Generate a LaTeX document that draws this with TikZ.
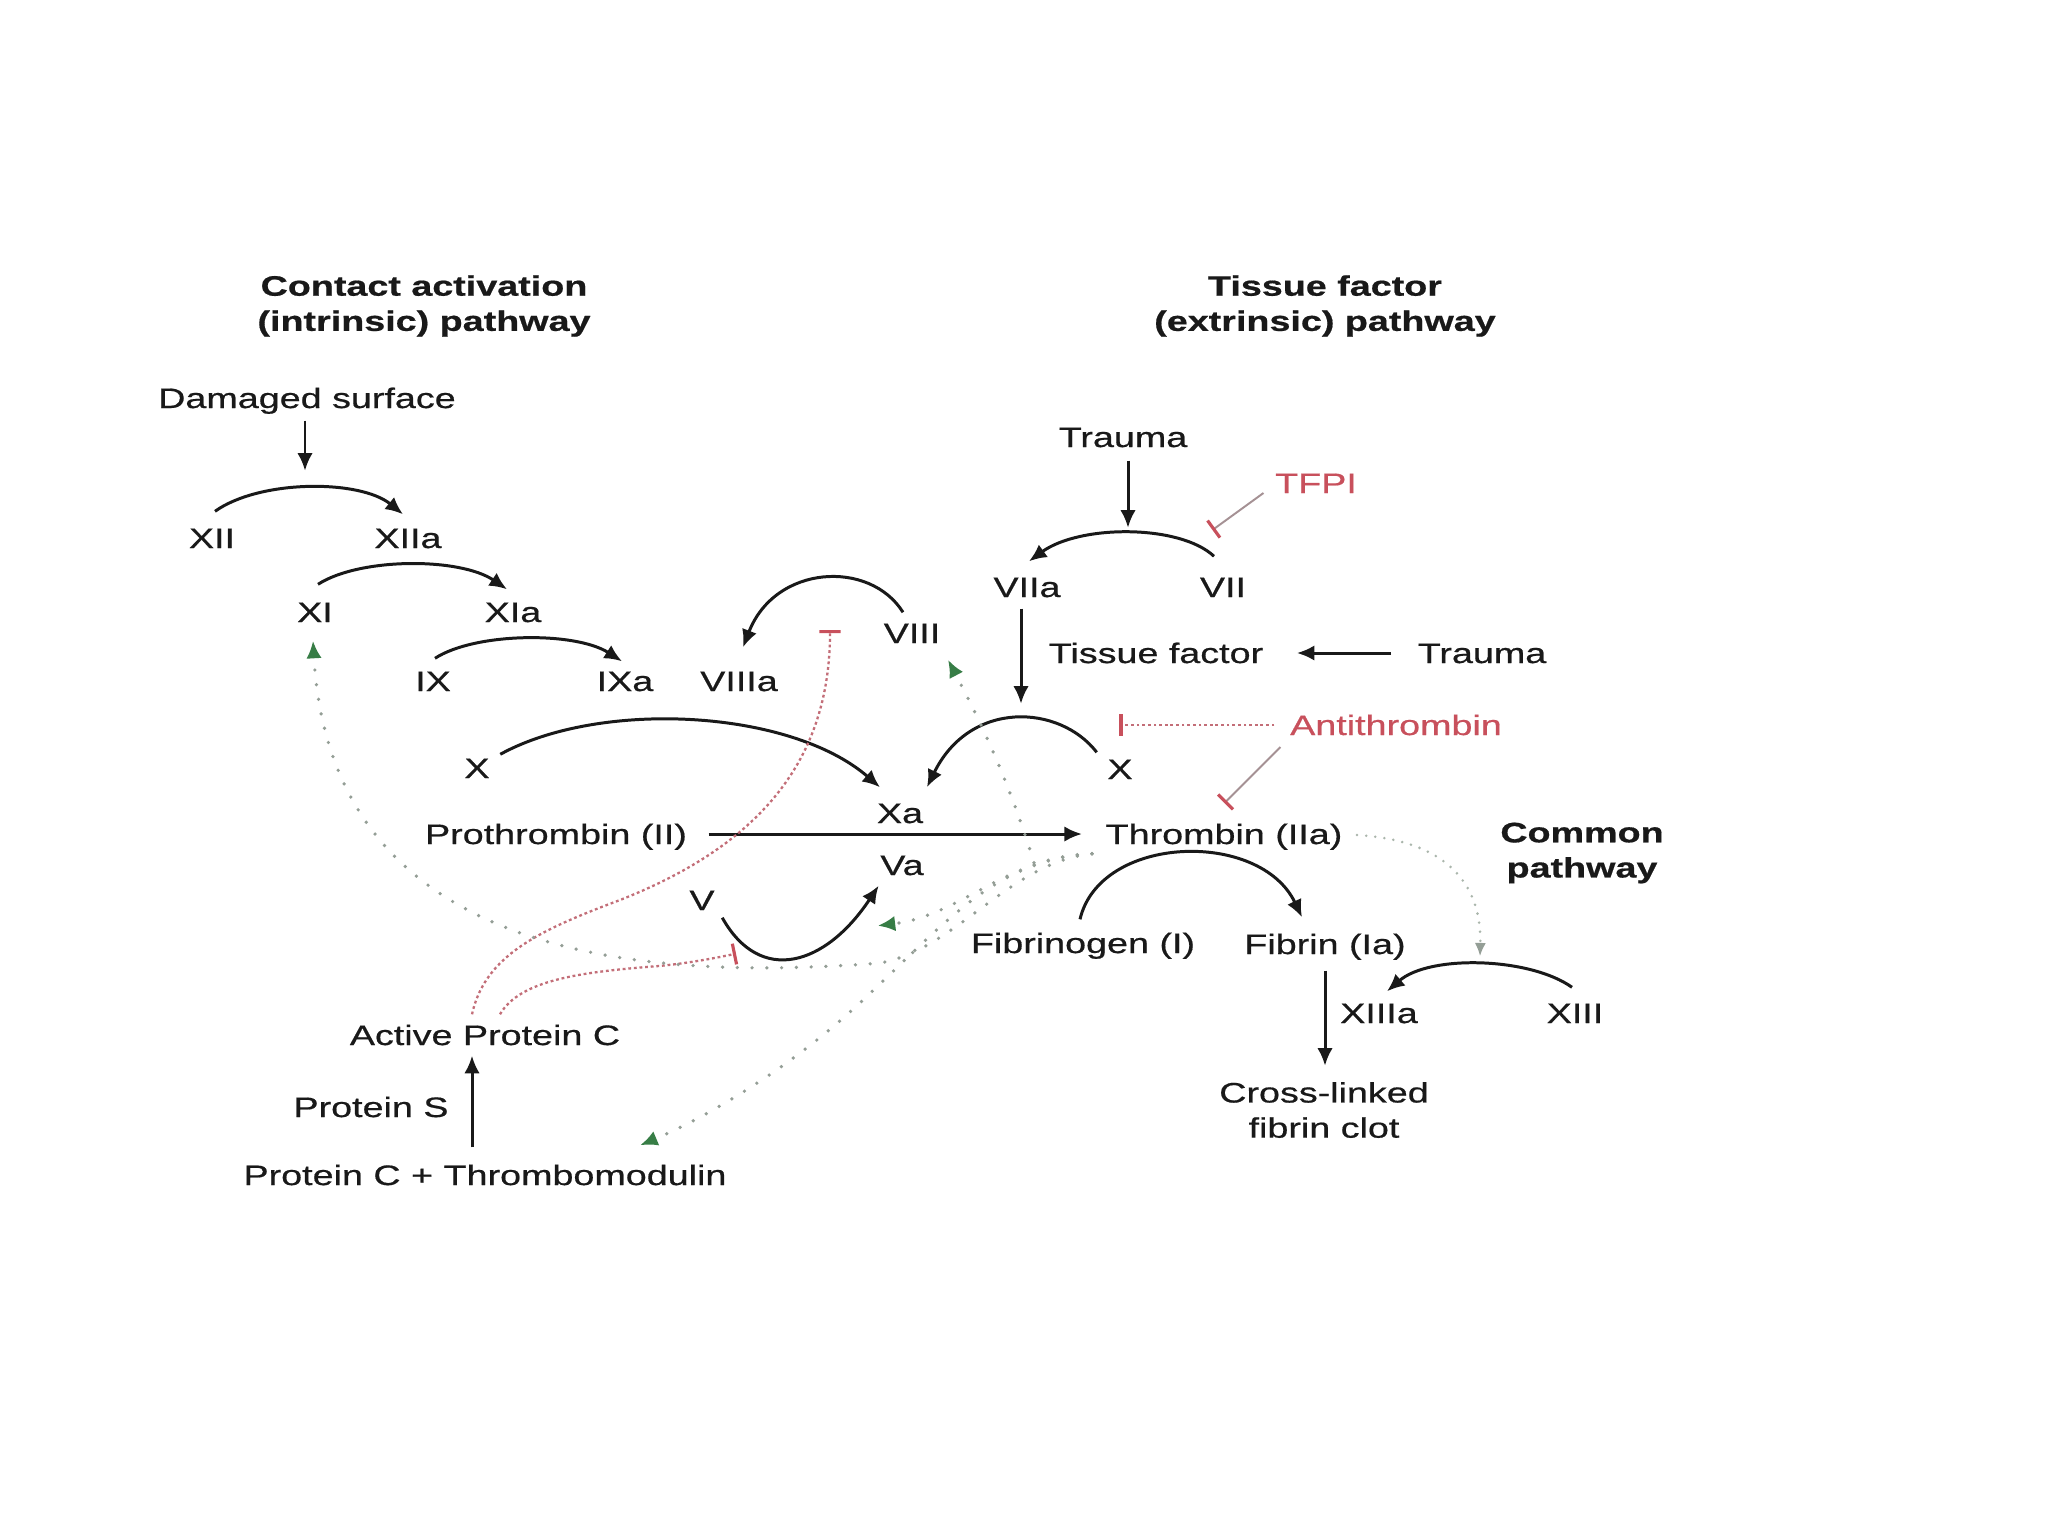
\documentclass[tikz,border=0pt]{standalone}
\usepackage{fontspec}
\setmainfont{Liberation Sans}[FakeStretch=1.34,FakeBold=0.6]
\usetikzlibrary{arrows.meta,calc}
\definecolor{inhred}{RGB}{200,80,92}
\definecolor{inhline}{RGB}{195,110,120}
\definecolor{inhgrey}{RGB}{165,145,148}
\definecolor{dotgrey}{RGB}{148,158,150}
\definecolor{dotlight}{RGB}{170,182,172}
\definecolor{tipgreen}{RGB}{55,125,70}
\definecolor{ink}{RGB}{25,25,25}
\begin{document}
\begin{tikzpicture}[x=0.01cm,y=-0.01cm,
  lbl/.style={inner sep=0pt, text height=0.2cm, text depth=0pt, font=\fontsize{8}{10}\selectfont, text=ink},
  ttl/.style={inner sep=0pt, align=center, font=\fontsize{8}{10}\selectfont\bfseries, text=ink},
  two/.style={inner sep=0pt, align=center, font=\fontsize{8}{10}\selectfont, text=ink},
  redlbl/.style={lbl, text=inhred},
  arr/.style={draw=ink, line width=0.85pt, -{Latex[length=5pt,width=4.4pt]}},
  fb/.style={draw=dotgrey, line width=1.05pt, line cap=round, dash pattern=on 0pt off 4.2pt, -{Latex[length=5pt,width=4.4pt,color=tipgreen]}},
  fbl/.style={draw=dotlight, line width=0.8pt, line cap=round, dash pattern=on 0pt off 2.6pt, -{Latex[length=3.8pt,width=3.2pt,color=dotgrey]}},
  inh/.style={draw=inhgrey, line width=0.55pt, -{Bar[width=6pt,line width=0.9pt,color=inhred]}},
  inhd/.style={draw=inhline, line width=0.65pt, dash pattern=on 0.8pt off 0.8pt, -{Bar[width=6pt,line width=0.9pt,color=inhred]}}
]
\useasboundingbox (0,0) rectangle (2048,1536);
\fill[white] (0,0) rectangle (2048,1536);

% titles
\node[ttl] (tcont) at (424,306) {Contact activation\\(intrinsic) pathway};
\node[ttl] (ttis) at (1325,306) {Tissue factor\\(extrinsic) pathway};
\node[ttl] (tcom) at (1582,853) {Common\\pathway};

% labels
\node[lbl] (dmg) at (307,398) {Damaged surface};
\node[lbl] (xii) at (212,538) {XII};
\node[lbl] (xiia) at (408,538) {XIIa};
\node[lbl] (xi) at (315,612) {XI};
\node[lbl] (xia) at (513,612) {XIa};
\node[lbl] (ix) at (433,681) {IX};
\node[lbl] (ixa) at (625,681) {IXa};
\node[lbl] (viiia) at (739,681) {VIIIa};
\node[lbl] (viii) at (912,633) {VIII};
\node[lbl] (xl) at (477,768) {X};
\node[lbl] (xa) at (900,813) {Xa};
\node[lbl] (proth) at (556,834) {Prothrombin (II)};
\node[lbl] (va) at (902,865) {Va};
\node[lbl] (v) at (702,900) {V};
\node[lbl] (thr) at (1224,834) {Thrombin (IIa)};
\node[lbl] (xr) at (1120,769) {X};
\node[lbl] (viia) at (1027,587) {VIIa};
\node[lbl] (vii) at (1223,587) {VII};
\node[lbl] (tr1) at (1123,437) {Trauma};
\node[redlbl] (tfpi) at (1316,483) {TFPI};
\node[lbl] (tf) at (1156,653) {Tissue factor};
\node[lbl] (tr2) at (1482,653) {Trauma};
\node[redlbl] (at) at (1396,725) {Antithrombin};
\node[lbl] (fbg) at (1083,943) {Fibrinogen (I)};
\node[lbl] (fbn) at (1325,944) {Fibrin (Ia)};
\node[lbl] (xiiia) at (1379,1013) {XIIIa};
\node[lbl] (xiii) at (1575,1013) {XIII};
\node[two] (clot) at (1324,1110) {Cross-linked\\fibrin clot};
\node[lbl] (apc) at (485,1035) {Active Protein C};
\node[lbl] (ps) at (371,1107) {Protein S};
\node[lbl] (pctm) at (485,1175) {Protein C + Thrombomodulin};

% black conversions
\draw[arr] ($(dmg.south)+(-2,12)$) -- ++(0,50);
\draw[arr] ($(xii.north)+(3,-16)$) .. controls +(45,-32) and +(-43,-35) .. ($(xiia.north)+(-5,-13)$);
\draw[arr] ($(xi.north)+(3,-17)$) .. controls +(42,-27) and +(-47,-32) .. ($(xia.north)+(-6,-12)$);
\draw[arr] ($(ix.north)+(2,-12)$) .. controls +(40,-26) and +(-47,-30) .. ($(ixa.north)+(-3,-9)$);
\draw[arr] ($(viii.north)+(-9,-10)$) .. controls +(-33,-53) and +(32,-83) .. ($(viiia.north)+(4,-23)$);
\draw[arr] ($(xl.north east)+(10,-3)$) .. controls +(100,-55) and +(-90,-78) .. ($(xa.north)+(-20,-15)$);
\draw[arr] ($(xr.north west)+(-10,-6)$) .. controls +(-37,-48) and +(43,-88) .. ($(xa.north)+(27,-15)$);
\draw[arr] ($(vii.north)+(-9,-20)$) .. controls +(-34,-32) and +(51,-37) .. ($(viia.north)+(2,-15)$);
\draw[arr] ($(tr1.south)+(5,13)$) -- ++(0,67);
\draw[arr] ($(tr2.west)+(-26,0)$) -- ($(tf.east)+(33,0)$);
\draw[arr] ($(viia.south)+(-6,11)$) -- ++(0,95);
\draw[arr] ($(proth.east)+(21,0)$) -- ($(thr.west)+(-23,0)$);
\draw[arr] ($(fbg.north)+(-3,-13)$) .. controls +(20,-85) and +(-42,-88) .. ($(fbn.north)+(-23,-16)$);
\draw[arr] ($(fbn.south)+(0,16)$) -- ++(0,95);
\draw[arr] ($(xiii.north)+(-3,-15)$) .. controls +(-42,-30) and +(43,-37) .. ($(xiiia.north)+(8,-11)$);
\draw[arr] ($(v.south east)+(7,7)$) .. controls +(38,68) and +(-53,80) .. ($(va.south west)+(-1,10)$);
\draw[arr] ($(pctm.north)+(-13,-17)$) -- ($(apc.south)+(-13,10)$);

% inhibitions
\draw[inh] ($(tfpi.west)+(-11,10)$) -- ++(-51,37);
\draw[inhd] ($(at.west)+(-15,0)$) -- ++(-155,0);
\draw[inh] ($(at.west)+(-9,22)$) -- ++(-56,56);
\coordinate (inh8) at ($(viii.west)+(-53,-3)$);
\coordinate (inh5) at ($(v.south)+(34,43)$);
\draw[inhd] ($(apc.north)+(-13,-10)$) .. controls (485,955) and (540,930) .. (620,900) .. controls (760,845) and (830,760) .. (inh8);
\draw[inhd] ($(apc.north)+(15,-10)$) .. controls (520,980) and (580,972) .. (659,966) .. controls (690,963) and (715,958) .. (inh5);

% thrombin feedback
\coordinate (tsrc) at ($(thr.south west)+(-13,9)$);
\draw[fb] (tsrc) .. controls +(-83,2) and +(83,-10) .. ($(va.south west)+(-2,50)$);
\draw[fb] (tsrc) .. controls (1010,862) and (955,950) .. (880,963) .. controls (600,985) and (330,940) .. ($(xi.south)+(-2,18)$);
\draw[fb] (tsrc) .. controls (990,860) and (940,930) .. (850,1012) .. controls (780,1075) and (700,1120) .. ($(pctm.north)+(155,-19)$);
\draw[fb] ($(tsrc)+(-58,9)$) .. controls +(-25,-82) and +(32,61) .. ($(viii.south)+(36,16)$);
\draw[fbl] ($(thr.east)+(14,1)$) .. controls +(84,5) and +(2,-77) .. ($(xiii.north)+(-95,-46)$);
\end{tikzpicture}
\end{document}
